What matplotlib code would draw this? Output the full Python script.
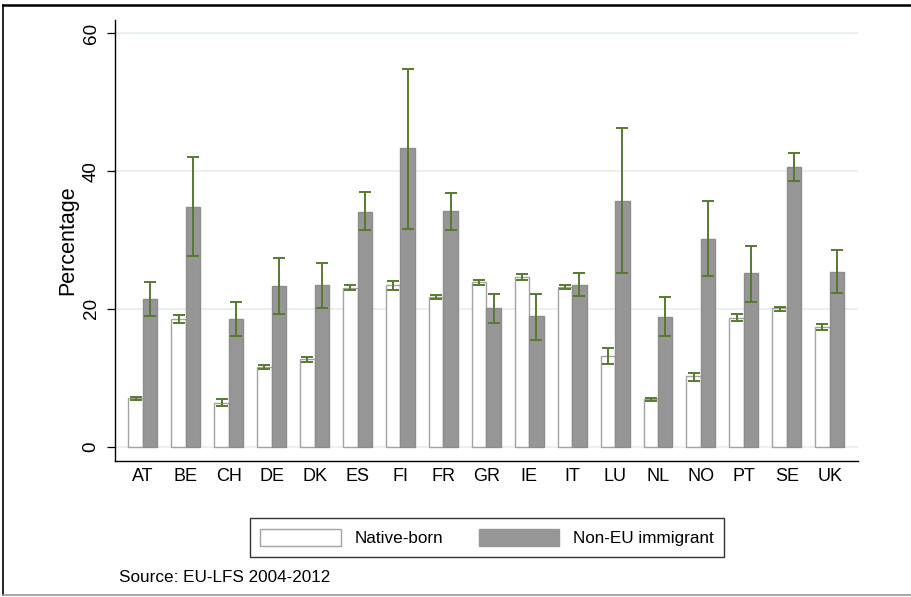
import matplotlib.pyplot as plt
import matplotlib.patches as mpatches
import numpy as np

countries = ['AT', 'BE', 'CH', 'DE', 'DK', 'ES', 'FI', 'FR', 'GR',
             'IE', 'IT', 'LU', 'NL', 'NO', 'PT', 'SE', 'UK']

native = [7.0, 18.5, 6.4, 11.6, 12.7, 23.1, 23.4, 21.8, 23.9,
          24.6, 23.2, 13.2, 6.9, 10.2, 18.7, 20.1, 17.4]
native_lo = [6.8, 17.9, 5.9, 11.3, 12.3, 22.7, 22.7, 21.5, 23.4,
             24.2, 22.9, 12.0, 6.7, 9.6, 18.3, 19.7, 17.0]
native_hi = [7.2, 19.1, 6.9, 11.9, 13.0, 23.5, 24.0, 22.0, 24.2,
             25.0, 23.5, 14.3, 7.1, 10.7, 19.2, 20.3, 17.8]

nonEU = [21.5, 34.8, 18.5, 23.3, 23.5, 34.1, 43.3, 34.2, 20.2,
         18.9, 23.5, 35.7, 18.8, 30.2, 25.2, 40.6, 25.4]
nonEU_lo = [19.0, 27.7, 16.0, 19.2, 20.2, 31.4, 31.6, 31.5, 18.0,
            15.5, 21.9, 25.2, 16.0, 24.8, 21.0, 38.6, 22.3]
nonEU_hi = [23.85, 42.1, 20.95, 27.4, 26.7, 36.9, 54.8, 36.8, 22.2,
            22.2, 25.2, 46.2, 21.7, 35.6, 29.2, 42.7, 28.5]

plt.rcParams['font.family'] = ['Liberation Sans', 'DejaVu Sans']

fig = plt.figure(figsize=(9.12, 5.97), dpi=100)
ax = fig.add_axes([0.1261, 0.2283, 0.8152, 0.7382])

x = np.arange(len(countries))
w = 0.337
green = '#587a30'

ax.bar(x - w / 2, native, width=w, color='white', edgecolor='#a3a3a3',
       linewidth=1.0, zorder=2)
ax.bar(x + w / 2, nonEU, width=w, color='#969696', edgecolor='#8c8c8c',
       linewidth=1.0, zorder=2)

native = np.array(native)
nonEU = np.array(nonEU)
ax.errorbar(x - w / 2, native,
            yerr=[native - np.array(native_lo), np.array(native_hi) - native],
            fmt='none', ecolor=green, elinewidth=1.4, capsize=4.3,
            capthick=1.4, zorder=3)
ax.errorbar(x + w / 2, nonEU,
            yerr=[nonEU - np.array(nonEU_lo), np.array(nonEU_hi) - nonEU],
            fmt='none', ecolor=green, elinewidth=1.4, capsize=4.3,
            capthick=1.4, zorder=3)

ax.set_xlim(-0.65, len(countries) - 1 + 0.67)
ax.set_ylim(-2.03, 61.93)
ax.set_yticks([0, 20, 40, 60])
ax.set_yticklabels(['0', '20', '40', '60'], rotation=90, va='center',
                   fontsize=13.6)
ax.set_xticks(x)
ax.set_xticklabels(countries, fontsize=13)
ax.tick_params(axis='x', length=0, pad=5)
ax.tick_params(axis='y', length=6, width=0.9, pad=5)
ax.set_ylabel('Percentage', fontsize=15.5, labelpad=3)

ax.grid(axis='y', color='#e6eff0', linewidth=1.3, zorder=0)
ax.set_axisbelow(True)
for s in ['top', 'right']:
    ax.spines[s].set_visible(False)
ax.spines['left'].set_linewidth(1.0)
ax.spines['bottom'].set_linewidth(1.0)

handles = [mpatches.Patch(facecolor='white', edgecolor='#a3a3a3', label='Native-born'),
           mpatches.Patch(facecolor='#969696', edgecolor='#969696', label='Non-EU immigrant')]
leg = fig.legend(handles=handles, loc='center', ncol=2,
                 bbox_to_anchor=(486.8 / 912, 1 - 537.5 / 597),
                 fontsize=12.3, frameon=True, fancybox=False,
                 edgecolor='black', handlelength=4.7, handleheight=1.23,
                 handletextpad=0.8, columnspacing=2.1, borderpad=0.62)
leg.get_frame().set_linewidth(1.0)

fig.text(119 / 912, 1 - 577 / 597, 'Source: EU-LFS 2004-2012',
         fontsize=12.3, va='center', ha='left')

# outer frame of the graph region
fig.add_artist(plt.Line2D([3 / 912, 3 / 912], [0.003, 1 - 5 / 597],
                          color='black', linewidth=1.2))
fig.add_artist(plt.Line2D([3 / 912, 1.0], [1 - 5 / 597, 1 - 5 / 597],
                          color='black', linewidth=1.8))
fig.add_artist(plt.Line2D([3 / 912, 1.0], [0.003, 0.003],
                          color='#999999', linewidth=1.2))

fig.savefig('out.png', dpi=100)
